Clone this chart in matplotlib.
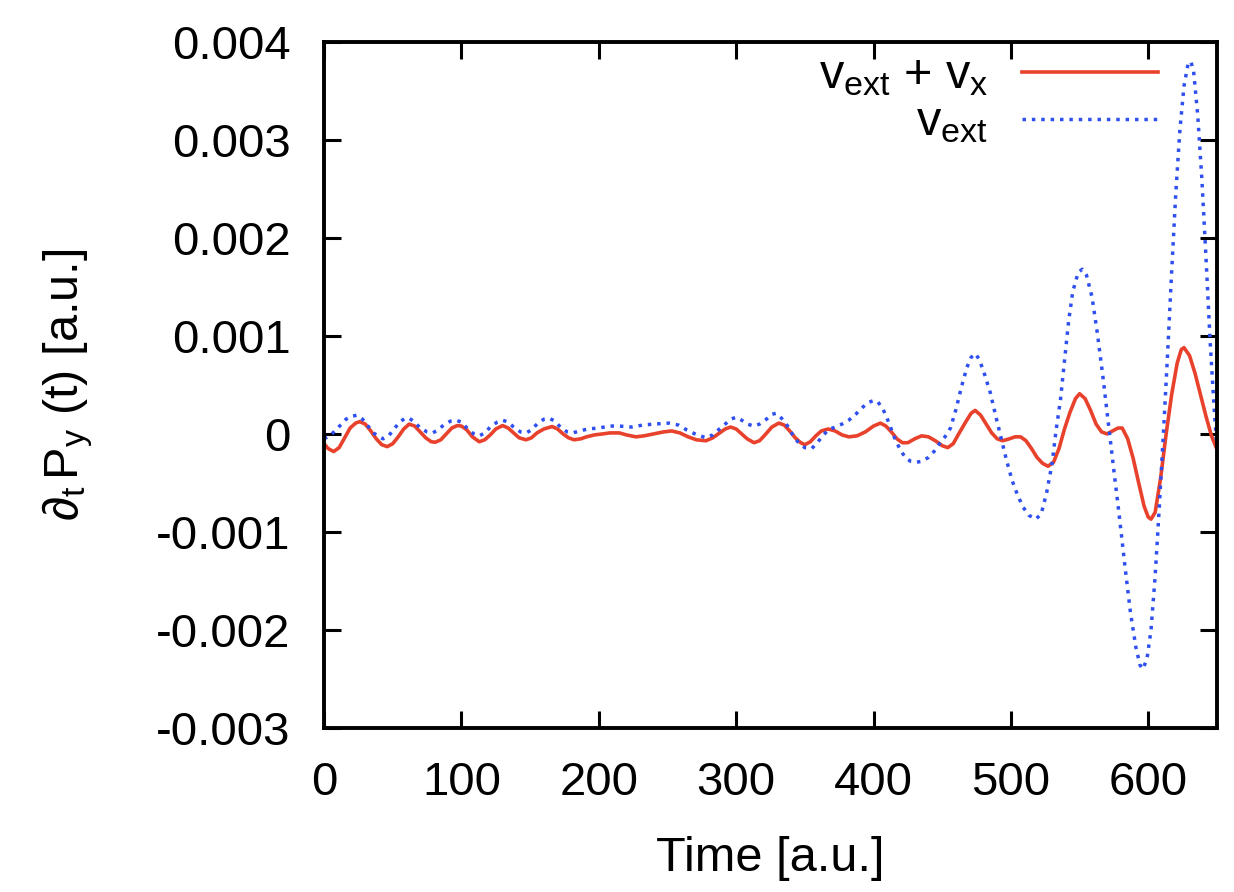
import numpy as np
import matplotlib
matplotlib.use("Agg")
import matplotlib.pyplot as plt

plt.rcParams['font.family'] = ['Liberation Sans', 'DejaVu Sans']
plt.rcParams['mathtext.fontset'] = 'custom'
plt.rcParams['mathtext.rm'] = 'Liberation Sans'
plt.rcParams['mathtext.it'] = 'Liberation Sans'

# v_ext + v_x  (values in units of 1e-3)
t_red = [0, 3, 7, 11, 15, 19, 23, 26, 30, 34, 38, 42, 46, 50, 54, 58, 62, 66, 70, 74,
         78, 81, 85, 89, 93, 97, 100, 104, 108, 113, 117, 121, 125, 130, 134, 138, 142,
         147, 151, 155, 160, 166, 170, 174, 178, 182, 187, 191, 197, 203, 208, 215, 220,
         227, 233, 240, 247, 253, 259, 265, 271, 278, 283, 288, 292, 296, 300, 304, 308,
         313, 317, 321, 326, 331, 335, 339, 343, 347, 350, 354, 358, 362, 367, 372, 377,
         382, 388, 394, 400, 405, 409, 413, 417, 421, 425, 430, 435, 440, 445, 450, 454,
         458, 462, 467, 471, 474, 478, 482, 486, 490, 494, 499, 503, 507, 511, 515, 519,
         523, 527, 531, 535, 539, 543, 547, 550, 554, 558, 562, 566, 570, 574, 578, 581,
         585, 589, 593, 597, 600, 602, 605, 609, 613, 617, 621, 624, 626, 630, 634, 638,
         642, 646, 650]
v_red = [-0.10, -0.15, -0.18, -0.14, -0.04, 0.06, 0.11, 0.125, 0.10, 0.03, -0.05, -0.11,
         -0.13, -0.10, -0.03, 0.05, 0.10, 0.08, 0.02, -0.04, -0.08, -0.085, -0.06, 0.00,
         0.06, 0.085, 0.08, 0.04, -0.03, -0.08, -0.06, -0.01, 0.05, 0.085, 0.06, 0.01,
         -0.04, -0.06, -0.04, 0.01, 0.05, 0.075, 0.05, 0.00, -0.04, -0.06, -0.05, -0.03,
         -0.01, 0.00, 0.01, 0.01, -0.01, -0.03, -0.02, 0.00, 0.02, 0.03, 0.01, -0.03,
         -0.06, -0.07, -0.04, 0.01, 0.05, 0.07, 0.05, 0.00, -0.05, -0.09, -0.07, -0.01,
         0.07, 0.11, 0.09, 0.03, -0.04, -0.09, -0.11, -0.08, -0.02, 0.03, 0.05, 0.03,
         -0.01, -0.03, -0.02, 0.02, 0.08, 0.11, 0.08, 0.02, -0.05, -0.09, -0.09, -0.05,
         -0.02, -0.03, -0.07, -0.12, -0.14, -0.10, 0.00, 0.12, 0.21, 0.24, 0.19, 0.10,
         0.01, -0.05, -0.07, -0.05, -0.03, -0.03, -0.07, -0.15, -0.24, -0.30, -0.33,
         -0.29, -0.15, 0.05, 0.22, 0.36, 0.41, 0.36, 0.24, 0.10, 0.02, 0.00, 0.03, 0.06,
         0.06, -0.05, -0.25, -0.50, -0.74, -0.85, -0.87, -0.80, -0.45, 0.00, 0.40, 0.72,
         0.86, 0.88, 0.80, 0.62, 0.40, 0.18, -0.02, -0.16]

# v_ext only
t_blue = [0, 4, 8, 12, 16, 20, 24, 28, 32, 36, 40, 43, 47, 51, 55, 59, 62, 66, 70, 75,
          79, 83, 87, 92, 96, 100, 104, 109, 113, 117, 121, 126, 130, 134, 138, 143, 147,
          151, 155, 160, 164, 168, 172, 177, 181, 186, 192, 200, 208, 215, 224, 232, 240,
          251, 258, 264, 270, 278, 283, 287, 292, 296, 300, 304, 308, 313, 317, 322, 326,
          329, 333, 338, 342, 346, 350, 355, 359, 363, 367, 372, 377, 382, 387, 392, 396,
          400, 403, 407, 411, 415, 419, 423, 427, 431, 435, 440, 444, 448, 452, 456, 460,
          464, 468, 471, 474, 477, 481, 485, 489, 493, 497, 501, 505, 509, 513, 518, 522,
          526, 530, 533, 536, 539, 542, 545, 549, 552, 555, 559, 563, 567, 571, 575, 579,
          583, 587, 591, 594, 596, 599, 602, 605, 608, 611, 614, 617, 620, 623, 626, 629,
          631, 633, 636, 639, 642, 645, 648, 650]
v_blue = [-0.05, -0.02, 0.03, 0.09, 0.15, 0.18, 0.19, 0.15, 0.08, 0.01, -0.03, -0.05,
          -0.02, 0.05, 0.12, 0.16, 0.16, 0.12, 0.06, 0.02, 0.01, 0.04, 0.09, 0.13, 0.14,
          0.12, 0.06, 0.00, -0.02, 0.01, 0.07, 0.12, 0.14, 0.12, 0.07, 0.02, 0.01, 0.04,
          0.10, 0.15, 0.16, 0.13, 0.07, 0.02, 0.01, 0.03, 0.05, 0.06, 0.08, 0.08, 0.07,
          0.09, 0.10, 0.11, 0.09, 0.04, 0.00, -0.04, -0.01, 0.04, 0.10, 0.15, 0.17, 0.14,
          0.10, 0.08, 0.10, 0.15, 0.20, 0.21, 0.16, 0.07, -0.03, -0.10, -0.14, -0.15,
          -0.09, -0.02, 0.04, 0.07, 0.10, 0.14, 0.20, 0.27, 0.32, 0.34, 0.33, 0.25, 0.12,
          -0.03, -0.15, -0.24, -0.28, -0.29, -0.28, -0.24, -0.18, -0.10, -0.03, 0.06,
          0.25, 0.48, 0.68, 0.78, 0.82, 0.76, 0.60, 0.42, 0.18, -0.05, -0.28, -0.48,
          -0.63, -0.75, -0.83, -0.87, -0.82, -0.60, -0.30, 0.05, 0.34, 0.75, 1.15, 1.45,
          1.65, 1.68, 1.62, 1.40, 1.02, 0.58, 0.10, -0.38, -0.85, -1.35, -1.82, -2.18,
          -2.36, -2.40, -2.30, -2.00, -1.45, -0.75, 0.00, 0.80, 1.65, 2.45, 3.10, 3.55,
          3.78, 3.80, 3.70, 3.25, 2.60, 1.80, 0.95, 0.25, -0.15]

fig = plt.figure(figsize=(12.34, 8.92), dpi=100)
ax = fig.add_axes([0.2626, 0.184, 0.7236, 0.769])

ax.plot(t_red, np.array(v_red) * 1e-3, color='#e8412c', lw=2.6,
        label=r'$v_{ext}$ + $v_x$')
ax.plot(t_blue, np.array(v_blue) * 1e-3, color='#2f4ff0', lw=2.5,
        linestyle=(0, (1, 1.7)), label=r'$v_{ext}$')

ax.set_xlim(0, 650)
ax.set_ylim(-0.003, 0.004)
ax.set_xticks([0, 100, 200, 300, 400, 500, 600])
ax.set_yticks([-0.003, -0.002, -0.001, 0, 0.001, 0.002, 0.003, 0.004])
ax.set_yticklabels(['-0.003', '-0.002', '-0.001', '0', '0.001', '0.002', '0.003', '0.004'])

ax.tick_params(direction='in', length=12, width=2.2, labelsize=34,
               top=True, right=True, pad=24)
for s in ax.spines.values():
    s.set_linewidth(2.8)

ax.set_xlabel('Time [a.u.]', fontsize=35, labelpad=22)
ax.set_ylabel(r'$\partial_t\,P_y$ (t) [a.u.]', fontsize=35, labelpad=44)

ax.legend(loc='upper right', frameon=False, markerfirst=False, fontsize=35,
          handlelength=2.8, handletextpad=0.7, labelspacing=0.04,
          borderpad=0, borderaxespad=0, bbox_to_anchor=(0.934, 0.983))

fig.savefig('out.png', dpi=100)
